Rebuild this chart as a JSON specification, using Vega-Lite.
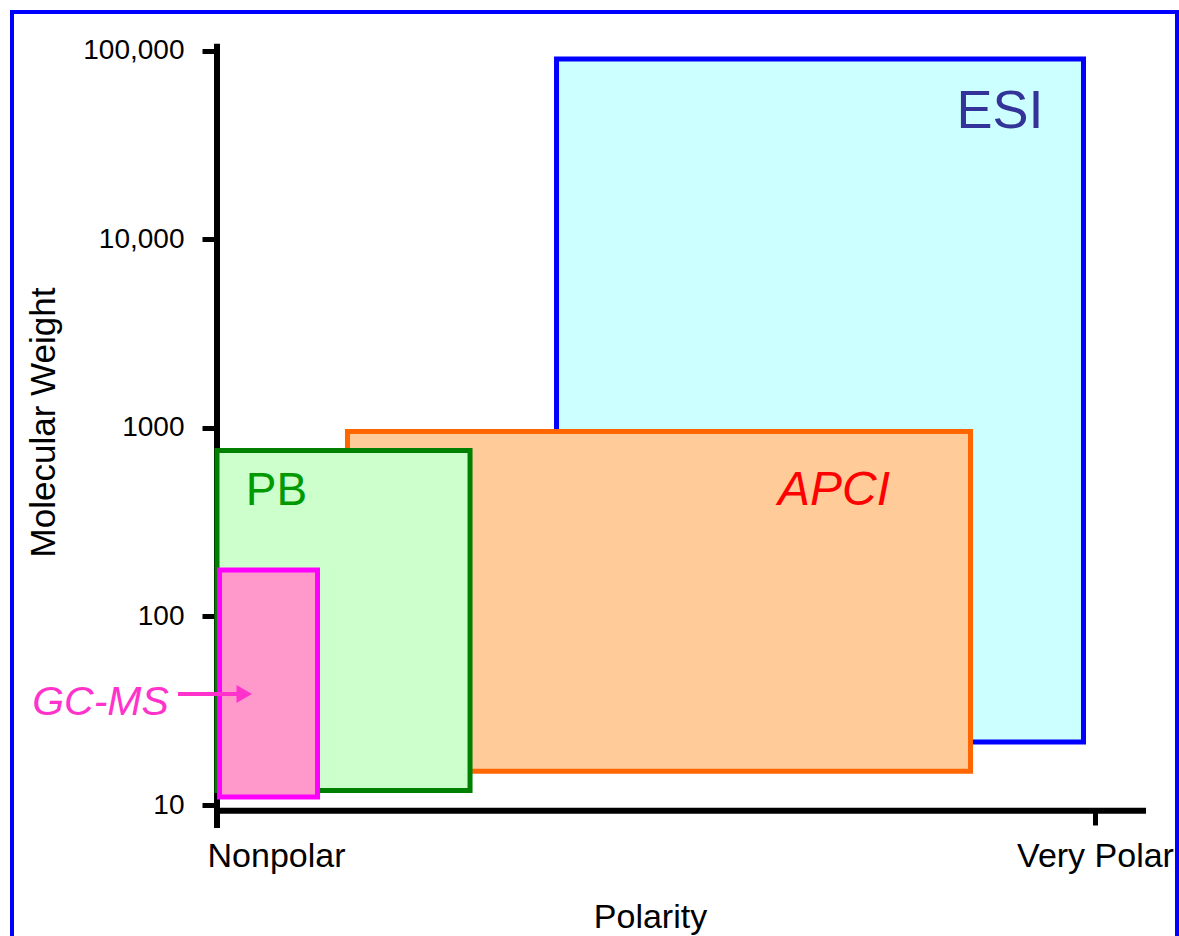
{
  "$schema": "https://vega.github.io/schema/vega-lite/v6.json",
  "width": 1165,
  "height": 940,
  "autosize": {"type": "none"},
  "padding": {"left": 12, "top": 12, "right": 2, "bottom": 0},
  "background": "white",
  "view": {"stroke": "#0000FF", "strokeWidth": 4, "fill": "white"},
  "datasets": {
    "boxes": [
      {"method": "ESI", "polarity_start": 0.3867, "polarity_end": 0.9869, "mw_low": 21.6, "mw_high": 90260},
      {"method": "APCI", "polarity_start": 0.1486, "polarity_end": 0.8582, "mw_low": 15.1, "mw_high": 955},
      {"method": "PB", "polarity_start": 0.0, "polarity_end": 0.2882, "mw_low": 11.94, "mw_high": 758},
      {"method": "GC-MS", "polarity_start": 0.0028, "polarity_end": 0.1145, "mw_low": 11.03, "mw_high": 176}
    ],
    "labels": [
      {"method": "ESI", "polarity": 0.8918, "mw": 38870},
      {"method": "APCI", "polarity": 0.7027, "mw": 389.7},
      {"method": "PB", "polarity": 0.0678, "mw": 389.7},
      {"method": "GC-MS", "polarity": -0.1327, "mw": 30.0}
    ],
    "axisLines": [
      {"line": "x", "p1": 0, "p2": 1.0547, "m1": 9.33, "m2": 9.33},
      {"line": "y", "p1": 0, "p2": 0, "m1": 7.83, "m2": 105000}
    ],
    "arrow": [
      {"p_from": -0.0444, "p_to": 0.036, "p_head": 0.031, "mw": 38.78}
    ]
  },
  "layer": [
    {
      "data": {"name": "axisLines"},
      "mark": {"type": "rule", "color": "black", "strokeWidth": 6, "strokeCap": "square"},
      "encoding": {
        "x": {
          "field": "p1", "type": "quantitative",
          "scale": {"domain": [-0.23349, 1.09339], "nice": false, "zero": false},
          "axis": {
            "orient": "bottom", "offset": -142, "values": [0, 1],
            "labelExpr": "datum.value == 0 ? 'Nonpolar' : 'Very Polar'",
            "domain": false, "grid": false, "ticks": true, "tickSize": 15, "tickWidth": 5, "tickColor": "black",
            "labelFont": "Liberation Sans", "labelFontSize": 34, "labelColor": "black", "labelPadding": 14,
            "labelAlign": {"condition": {"test": "datum.value == 0", "value": "left"}, "value": "center"},
            "labelOffset": {"condition": {"test": "datum.value == 0", "value": -10}, "value": 0},
            "labelFlush": false, "labelOverlap": false, "labelBound": false,
            "title": "Polarity", "titleFont": "Liberation Sans", "titleFontSize": 34, "titleFontWeight": "normal",
            "titleColor": "black", "titleX": 638, "titleY": 117, "titleBaseline": "alphabetic", "titleAlign": "center"
          }
        },
        "x2": {"field": "p2"},
        "y": {
          "field": "m1", "type": "quantitative",
          "scale": {"type": "log", "domain": [1.6619, 160250], "nice": false},
          "axis": {
            "orient": "left", "offset": -205, "values": [10, 100, 1000, 10000, 100000],
            "labelExpr": "datum.value >= 10000 ? format(datum.value, ',') : format(datum.value, 'd')",
            "domain": false, "grid": false, "tickSize": 15, "tickWidth": 5, "tickColor": "black",
            "labelFont": "Liberation Sans", "labelFontSize": 28, "labelColor": "black", "labelPadding": 18,
            "labelFlush": false, "labelOverlap": false, "labelBaseline": "middle",
            "title": "Molecular Weight", "titleFont": "Liberation Sans", "titleFontSize": 35, "titleFontWeight": "normal",
            "titleColor": "black", "titleAngle": 270, "titleX": -163, "titleY": 410, "titleBaseline": "alphabetic", "titleAlign": "center"
          }
        },
        "y2": {"field": "m2"}
      }
    },
    {
      "data": {"name": "boxes"},
      "mark": {"type": "rect", "strokeWidth": 5, "opacity": 1, "fillOpacity": 1},
      "encoding": {
        "x": {"field": "polarity_start", "type": "quantitative", "scale": {"domain": [-0.23349, 1.09339], "nice": false, "zero": false}},
        "x2": {"field": "polarity_end"},
        "y": {"field": "mw_low", "type": "quantitative", "scale": {"type": "log", "domain": [1.6619, 160250], "nice": false}},
        "y2": {"field": "mw_high"},
        "fill": {
          "field": "method", "type": "nominal",
          "scale": {"domain": ["ESI", "APCI", "PB", "GC-MS"], "range": ["#CCFFFF", "#FFCC99", "#CCFFCC", "#FF99CC"]},
          "legend": null
        },
        "stroke": {
          "field": "method", "type": "nominal",
          "scale": {"domain": ["ESI", "APCI", "PB", "GC-MS"], "range": ["#0000FF", "#FF6600", "#008000", "#FF00FF"]},
          "legend": null
        }
      }
    },
    {
      "data": {"name": "labels"},
      "transform": [{"filter": "datum.method == 'ESI'"}],
      "mark": {"type": "text", "font": "Liberation Sans", "fontSize": 54, "color": "#333399", "align": "center", "baseline": "alphabetic"},
      "encoding": {
        "x": {"field": "polarity", "type": "quantitative", "scale": {"domain": [-0.23349, 1.09339], "nice": false, "zero": false}},
        "y": {"field": "mw", "type": "quantitative", "scale": {"type": "log", "domain": [1.6619, 160250], "nice": false}},
        "text": {"field": "method"}
      }
    },
    {
      "data": {"name": "labels"},
      "transform": [{"filter": "datum.method == 'APCI'"}],
      "mark": {"type": "text", "font": "Liberation Sans", "fontSize": 48, "fontStyle": "italic", "color": "#FF0000", "align": "center", "baseline": "alphabetic"},
      "encoding": {
        "x": {"field": "polarity", "type": "quantitative", "scale": {"domain": [-0.23349, 1.09339], "nice": false, "zero": false}},
        "y": {"field": "mw", "type": "quantitative", "scale": {"type": "log", "domain": [1.6619, 160250], "nice": false}},
        "text": {"field": "method"}
      }
    },
    {
      "data": {"name": "labels"},
      "transform": [{"filter": "datum.method == 'PB'"}],
      "mark": {"type": "text", "font": "Liberation Sans", "fontSize": 46, "color": "#009900", "align": "center", "baseline": "alphabetic"},
      "encoding": {
        "x": {"field": "polarity", "type": "quantitative", "scale": {"domain": [-0.23349, 1.09339], "nice": false, "zero": false}},
        "y": {"field": "mw", "type": "quantitative", "scale": {"type": "log", "domain": [1.6619, 160250], "nice": false}},
        "text": {"field": "method"}
      }
    },
    {
      "data": {"name": "labels"},
      "transform": [{"filter": "datum.method == 'GC-MS'"}],
      "mark": {"type": "text", "font": "Liberation Sans", "fontSize": 41, "fontStyle": "italic", "color": "#FF33CC", "align": "center", "baseline": "alphabetic"},
      "encoding": {
        "x": {"field": "polarity", "type": "quantitative", "scale": {"domain": [-0.23349, 1.09339], "nice": false, "zero": false}},
        "y": {"field": "mw", "type": "quantitative", "scale": {"type": "log", "domain": [1.6619, 160250], "nice": false}},
        "text": {"field": "method"}
      }
    },
    {
      "data": {"name": "arrow"},
      "mark": {"type": "rule", "color": "#FF33CC", "strokeWidth": 4},
      "encoding": {
        "x": {"field": "p_from", "type": "quantitative", "scale": {"domain": [-0.23349, 1.09339], "nice": false, "zero": false}},
        "x2": {"field": "p_to"},
        "y": {"field": "mw", "type": "quantitative", "scale": {"type": "log", "domain": [1.6619, 160250], "nice": false}}
      }
    },
    {
      "data": {"name": "arrow"},
      "mark": {"type": "point", "shape": "triangle-right", "filled": true, "color": "#FF33CC", "size": 320, "opacity": 1},
      "encoding": {
        "x": {"field": "p_head", "type": "quantitative", "scale": {"domain": [-0.23349, 1.09339], "nice": false, "zero": false}},
        "y": {"field": "mw", "type": "quantitative", "scale": {"type": "log", "domain": [1.6619, 160250], "nice": false}}
      }
    }
  ]
}
